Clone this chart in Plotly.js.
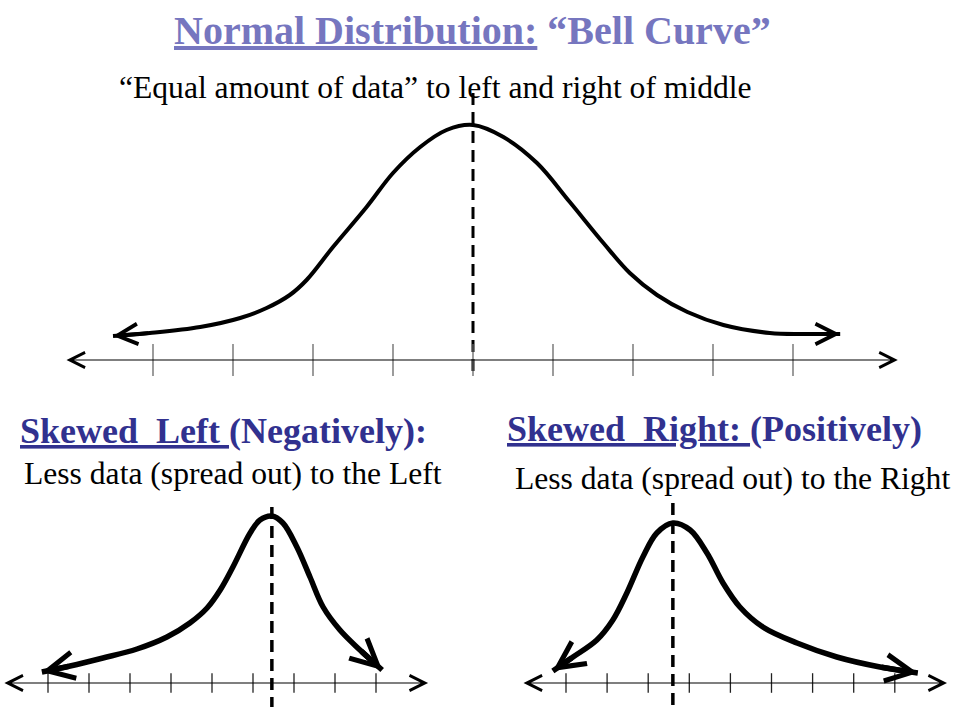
<!DOCTYPE html>
<html>
<head>
<meta charset="utf-8">
<script src="https://cdn.plot.ly/plotly-3.0.1.min.js"></script>
<style>
html,body{margin:0;padding:0;background:#fff;}
#chart{width:960px;height:720px;}
</style>
</head>
<body>
<div id="chart"></div>
<script>
// top: bell curve, x in tick steps from the middle, y = height above the number line
let normalX=[-4.5,-4.04,-3.41,-2.91,-2.58,-2.29,-2.08,-1.75,-1.33,-1.0,-0.66,-0.33,0,0.38,0.8,1.21,1.63,1.96,2.3,2.68,3.13,3.71,4.13,4.59];
let normalY=[0.24,0.27,0.33,0.42,0.52,0.65,0.80,1.13,1.53,1.87,2.13,2.30,2.35,2.23,1.97,1.58,1.17,0.87,0.65,0.48,0.35,0.27,0.26,0.26];
let normalTicks=[-4,-3,-2,-1,0,1,2,3,4];
let normalLine=[-5.1,5.31];
let normalMean=0;
let normalDash=[2.67,-0.17];

// bottom left: skewed left
let leftX=[-0.15,0.54,1.34,2.17,2.90,3.46,3.88,4.20,4.51,4.93,5.17,5.46,5.73,6.07,6.39,6.71,7.12,7.61,8.15];
let leftY=[0.11,0.17,0.25,0.34,0.46,0.60,0.75,0.93,1.16,1.50,1.63,1.67,1.60,1.36,1.06,0.76,0.53,0.33,0.13];
let leftTicks=[0,1,2,3,4,5,6,7,8];
let leftLine=[-1.10,9.27];
let leftMean=5.46;
let leftDash=[1.76,-0.24];

// bottom right: skewed right
let rightX=[-0.32,0.17,0.75,1.14,1.48,1.87,2.21,2.60,3.02,3.43,3.82,4.23,4.79,5.62,6.59,7.64,8.56];
let rightY=[0.12,0.26,0.43,0.63,0.90,1.26,1.50,1.60,1.53,1.30,1.00,0.76,0.56,0.40,0.26,0.16,0.10];
let rightTicks=[0,1,2,3,4,5,6,7,8];
let rightLine=[-1.07,9.27];
let rightMean=2.60;
let rightDash=[1.80,-0.27];

let serif="Liberation Serif, Times New Roman, serif";

function px(v){ return v/960; }
function py(v){ return 1-v/720; }

function panel(xs,ys,ticks,mean,dash,ax,ay,curveW,dashW,tickSize,tickColor){
return [
{
x:xs,y:ys,xaxis:ax,yaxis:ay,
type:"scatter",mode:"lines",
line:{color:"black",width:curveW,shape:"spline",smoothing:1},
hoverinfo:"skip"
},
{
x:[mean,mean],y:dash,xaxis:ax,yaxis:ay,
type:"scatter",mode:"lines",
line:{color:"black",width:dashW,dash:"12px,7px"},
hoverinfo:"skip"
},
{
x:ticks,y:ticks.map(()=>0),xaxis:ax,yaxis:ay,
type:"scatter",mode:"markers",
marker:{symbol:"line-ns",size:tickSize,color:tickColor,line:{color:tickColor,width:1.3}},
hoverinfo:"skip"
}
];
}

function arrows(xs,ys,line,xr,yr,w,size){
let n=xs.length;
return [
{xref:xr,yref:yr,axref:xr,ayref:yr,x:xs[0],y:ys[0],ax:xs[1],ay:ys[1],
text:"",showarrow:true,arrowhead:5,arrowsize:size,arrowwidth:w,arrowcolor:"black",standoff:0},
{xref:xr,yref:yr,axref:xr,ayref:yr,x:xs[n-1],y:ys[n-1],ax:xs[n-2],ay:ys[n-2],
text:"",showarrow:true,arrowhead:5,arrowsize:size,arrowwidth:w,arrowcolor:"black",standoff:0},
{xref:xr,yref:yr,axref:xr,ayref:yr,x:line[1],y:0,ax:line[0],ay:0,
text:"",showarrow:true,arrowside:"end+start",arrowhead:5,startarrowhead:5,
arrowsize:2.5,startarrowsize:2.5,arrowwidth:1.2,arrowcolor:"black",standoff:0,startstandoff:0}
];
}

let data=[].concat(
panel(normalX,normalY,normalTicks,normalMean,normalDash,"x","y",4,3,23,"#666"),
panel(leftX,leftY,leftTicks,leftMean,leftDash,"x2","y2",5.5,3.5,14,"#222"),
panel(rightX,rightY,rightTicks,rightMean,rightDash,"x3","y3",5.5,3.5,14,"#222")
);

function txt(s,x,y,anchor,size,color){
return {xref:"paper",yref:"paper",x:px(x),y:py(y),xanchor:anchor,yanchor:"middle",
text:s,showarrow:false,font:{family:serif,size:size,color:color}};
}

let notes=[].concat(
arrows(normalX,normalY,normalLine,"x","y",4,1.0),
arrows(leftX,leftY,leftLine,"x2","y2",5.5,0.95),
arrows(rightX,rightY,rightLine,"x3","y3",5.5,0.95),
[
txt("<b><u>Normal Distribution:</u> “Bell Curve”</b>",472,31,"center",40,"#7676bf"),
txt("“Equal amount of data” to left and right of middle",435,87,"center",31.6,"black"),
txt("<b><u>Skewed\u00a0 Left\u00a0</u>(Negatively):</b>",18,431,"left",36,"#31318f"),
txt("Less data (spread out) to the Left",22,473,"left",31.6,"black"),
txt("<b><u>Skewed\u00a0 Right:\u00a0</u>(Positively)</b>",505,429,"left",36,"#31318f"),
txt("Less data (spread out) to the Right",513,478,"left",31.6,"black")
]
);

function hidden(r){
return {range:r,domain:[0,1],visible:false,fixedrange:true};
}

let layout={
width:960,height:720,autosize:false,
margin:{l:0,r:0,t:0,b:0},
paper_bgcolor:"white",plot_bgcolor:"rgba(0,0,0,0)",
showlegend:false,
xaxis:hidden([-473/80,487/80]),
yaxis:hidden([-3.6,3.6]),
xaxis2:hidden([-48/41,912/41]),
yaxis2:hidden([-0.37,6.83]),
xaxis3:hidden([-566/41.1,394/41.1]),
yaxis3:hidden([-0.37,6.83]),
annotations:notes
};

Plotly.newPlot("chart",data,layout,{displayModeBar:false,staticPlot:true});
</script>
</body>
</html>
